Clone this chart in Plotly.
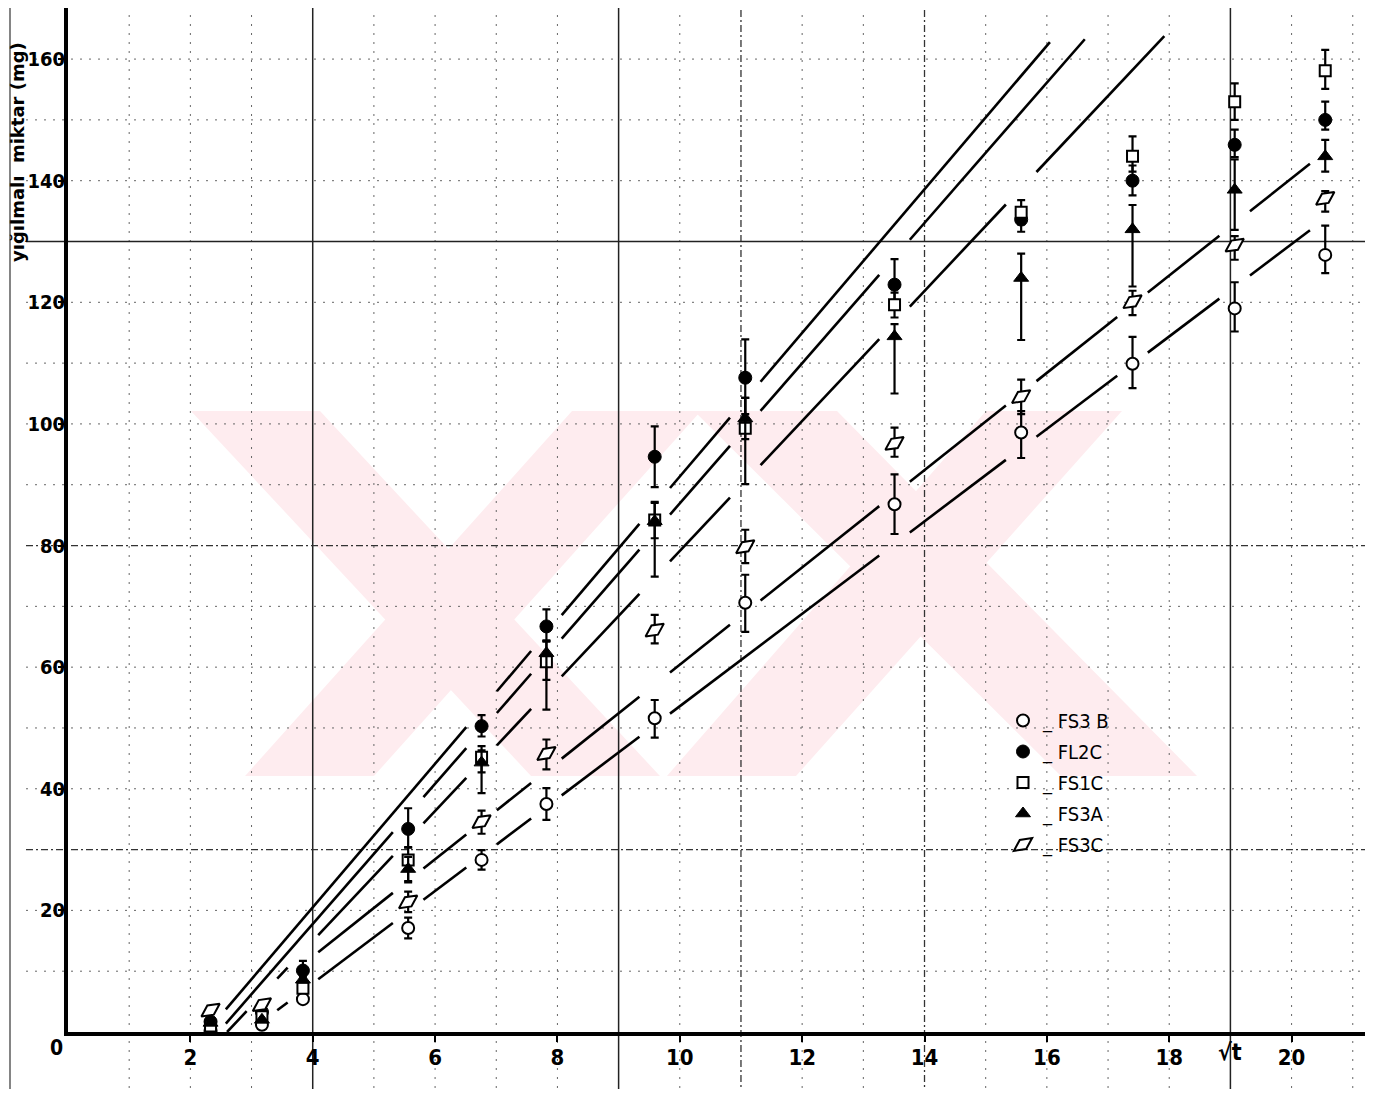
import plotly.graph_objects as go

# ---------------- data ----------------
x_cols = [2.33, 3.17, 3.84, 5.56, 6.76, 7.82, 9.59, 11.07, 13.51, 15.58, 17.40, 19.07, 20.55]

fs3b = [0.2, 1.2, 5.4, 17.1, 28.3, 37.5, 51.6, 70.6, 86.8, 98.6, 109.9, 119.0, 127.8]
fs3b_ep = [0, 0, 0, 1.7, 1.6, 2.6, 3.0, 4.6, 4.9, 3.5, 4.4, 4.3, 4.8]
fs3b_em = [0, 0, 0, 1.7, 1.6, 2.6, 3.2, 4.8, 4.9, 4.2, 4.0, 3.8, 3.0]

fl2c = [1.7, 3.3, 10.1, 33.4, 50.3, 66.7, 94.6, 107.6, 122.9, 133.6, 140.0, 145.9, 150.0]
fl2c_ep = [0, 0, 1.6, 3.4, 1.8, 2.8, 5.0, 6.3, 4.2, 2.0, 2.5, 2.5, 3.0]
fl2c_em = [0, 0, 1.0, 3.0, 1.7, 2.5, 5.0, 6.0, 2.5, 2.0, 2.4, 2.0, 1.6]

fs1c = [1.0, 2.5, 7.2, 28.3, 45.2, 60.9, 84.2, 99.3, 119.6, 134.8, 144.0, 153.0, 158.1]
fs1c_ep = [0, 0, 0, 2.0, 1.8, 3.5, 3.0, 5.0, 2.0, 2.0, 3.3, 3.0, 3.4]
fs1c_em = [0, 0, 0, 3.7, 2.5, 3.0, 3.0, 9.2, 2.1, 2.0, 2.5, 3.0, 3.0]

fs3a = [1.5, 2.0, 8.6, 26.8, 44.3, 62.3, 84.0, 100.9, 114.4, 124.0, 132.0, 138.5, 144.0]
fs3a_ep = [0, 0, 0, 2.0, 2.0, 2.0, 3.0, 3.4, 2.0, 4.0, 4.0, 5.0, 2.7]
fs3a_em = [0, 0, 0, 2.0, 5.0, 9.3, 9.1, 3.4, 9.4, 10.2, 9.4, 6.6, 2.5]

fs3c = [3.6, 4.5, None, 21.4, 34.6, 45.8, 66.1, 79.8, 96.8, 104.5, 120.1, 129.4, 137.1]
fs3c_ep = [0, 0, 0, 1.7, 1.8, 2.3, 2.5, 2.8, 2.6, 2.8, 1.8, 1.5, 1.2]
fs3c_em = [0, 0, 0, 1.7, 2.0, 2.6, 2.2, 2.7, 2.2, 2.9, 2.2, 2.4, 2.2]

series_names = ["_ FS3 B", "_ FL2C", "_ FS1C", "_ FS3A", "_ FS3C"]

# fitted straight lines  y = slope * (x - x_intercept)
line_slope = [11.81, 11.53, 10.69, 8.0, 7.6]
line_x0 = [2.265, 2.46, 2.6, 2.45, 2.95]
line_start = [2.265, 2.46, 2.6, 3.85, 3.25]
line_end = [16.05, 16.62, 17.92, 20.42, 20.40]

x_ticks = [2, 4, 6, 8, 10, 12, 14, 16, 18, 20]
y_ticks = [20, 40, 60, 80, 100, 120, 140, 160]

# ---------------- figure ----------------
OFF = 8                      # browser body margin
W, H = 1378 - 2 * OFF, 1097 - 2 * OFF
L, R, T, B = 60, 5, 0, 57
PW, PH = W - L - R, H - T - B
FONT = "DejaVu Sans Condensed, Liberation Sans Narrow, Arial Narrow, DejaVu Sans, sans-serif"
TFONT = "DejaVu Sans, Liberation Sans, sans-serif"


def px2paper(px, py):
    """page pixel -> paper coordinates"""
    return (px - OFF - L) / PW, (H - B - (py - OFF)) / PH


fig = go.Figure()

# column extents (used to break the fitted lines where they pass the markers)
all_series = [(fs3b, fs3b_ep, fs3b_em), (fl2c, fl2c_ep, fl2c_em), (fs1c, fs1c_ep, fs1c_em),
              (fs3a, fs3a_ep, fs3a_em), (fs3c, fs3c_ep, fs3c_em)]
col_lo, col_hi = [], []
for i in range(len(x_cols)):
    lo, hi = 1e9, -1e9
    for vals, ep, em in all_series:
        if vals[i] is None:
            continue
        lo = min(lo, vals[i] - em[i])
        hi = max(hi, vals[i] + ep[i])
    col_lo.append(lo)
    col_hi.append(hi)

GAP = 0.25
MARGIN = 2.0
for k in range(len(line_slope)):
    s, x0, xa, xb = line_slope[k], line_x0[k], line_start[k], line_end[k]
    cuts = []
    for i, c in enumerate(x_cols):
        yc = s * (c - x0)
        if col_lo[i] - MARGIN <= yc <= col_hi[i] + MARGIN and xa < c + GAP and c - GAP < xb:
            cuts.append((c - GAP, c + GAP))
    segs = []
    cur = xa
    for a, b in cuts:
        if a > cur:
            segs.append((cur, a))
        cur = max(cur, b)
    if cur < xb:
        segs.append((cur, xb))
    lx, ly = [], []
    for a, b in segs:
        lx += [a, b, None]
        ly += [s * (a - x0), s * (b - x0), None]
    fig.add_trace(go.Scatter(x=lx, y=ly, mode="lines", line=dict(color="black", width=2.6),
                             showlegend=False, hoverinfo="skip"))

marker_defs = [
    dict(symbol="circle", size=12, color="white", line=dict(color="black", width=2)),
    dict(symbol="circle", size=13, color="black", line=dict(color="black", width=1)),
    dict(symbol="square", size=11, color="white", line=dict(color="black", width=2)),
    dict(symbol="triangle-up", size=13, color="black", line=dict(color="black", width=1)),
    dict(symbol="diamond-wide", size=16, color="white", angle=-35, line=dict(color="black", width=2)),
]

for idx, (vals, ep, em) in enumerate(all_series):
    fig.add_trace(go.Scatter(
        x=x_cols, y=vals, mode="markers", name=series_names[idx],
        marker=marker_defs[idx], legendgroup=f"g{idx}",
        error_y=dict(type="data", array=ep, arrayminus=em, color="black", thickness=2.2, width=4),
    ))

shapes = []
# watermark (light pink logo behind everything)
pink = "rgb(254,236,239)"
bands = [
    [(191, 411), (320, 411), (660, 776), (531, 776)],
    [(572, 411), (701, 411), (374, 776), (245, 776)],
    [(694, 411), (837, 411), (1197, 776), (1061, 776)],
    [(986, 411), (1122, 411), (796, 776), (667, 776)],
]
for poly in bands:
    pts = [px2paper(*p) for p in poly]
    path = "M " + " L ".join(f"{a:.4f},{b:.4f}" for a, b in pts) + " Z"
    shapes.append(dict(type="path", path=path, xref="paper", yref="paper",
                       fillcolor=pink, line=dict(width=0), layer="below"))

# graph-paper grid
ybot = px2paper(0, 1097)[1]
for gx in range(1, 22):
    if gx in (4, 9, 19):
        st = dict(color="#222", width=1.5, dash="solid")
    elif gx in (11, 14):
        st = dict(color="#333", width=1.3, dash="7px,3px,2px,3px")
    else:
        st = dict(color="#666", width=1.0, dash="2px,7px")
    shapes.append(dict(type="line", xref="x", yref="paper", x0=gx, x1=gx, y0=ybot, y1=1.0,
                       line=st, layer="below"))
xleft = px2paper(26, 0)[0]
for gy in range(10, 170, 10):
    if gy == 130:
        st = dict(color="#222", width=1.5, dash="solid")
    elif gy in (30, 80):
        st = dict(color="#333", width=1.3, dash="7px,3px,2px,3px")
    else:
        st = dict(color="#666", width=1.0, dash="2px,7px")
    shapes.append(dict(type="line", xref="paper", yref="y", x0=xleft, x1=1.0, y0=gy, y1=gy,
                       line=st, layer="below"))
# paper edge line at far left
shapes.append(dict(type="line", xref="paper", yref="paper", x0=px2paper(10, 0)[0], x1=px2paper(10, 0)[0],
                   y0=ybot, y1=1.0, line=dict(color="#333", width=1.2), layer="below"))

annotations = [
    dict(text="<b>0</b>", x=px2paper(56, 1048)[0], y=px2paper(56, 1048)[1], xref="paper", yref="paper",
         xanchor="center", yanchor="middle",
         showarrow=False, font=dict(family=FONT, size=21, color="black")),
    dict(text="<b>√t</b>", x=px2paper(1230, 0)[0], y=px2paper(0, 1052)[1], xref="paper", yref="paper",
         xanchor="center", yanchor="middle",
         showarrow=False, font=dict(family=FONT, size=23, color="black")),
    dict(text="<b>yığılmalı  miktar (mg)</b>", x=px2paper(17, 0)[0], y=px2paper(0, 152)[1],
         xref="paper", yref="paper", xanchor="center", yanchor="middle", textangle=-90, showarrow=False,
         font=dict(family=TFONT, size=18, color="black")),
]

fig.update_layout(
    width=W, height=H,
    margin=dict(l=L, r=R, t=T, b=B, pad=0, autoexpand=False),
    paper_bgcolor="white", plot_bgcolor="white",
    shapes=shapes, annotations=annotations,
    showlegend=True,
    legend=dict(x=px2paper(1003, 0)[0], y=px2paper(0, 701)[1], xanchor="left", yanchor="top",
                bgcolor="rgba(0,0,0,0)", font=dict(family=FONT, size=20, color="black"),
                tracegroupgap=2, itemsizing="trace", itemwidth=30),
    xaxis=dict(range=[0, 21.2], tickvals=x_ticks, ticktext=[str(v) for v in x_ticks],
               showgrid=False, zeroline=False, showline=True, linecolor="black", linewidth=4,
               ticks="outside", ticklen=6, tickwidth=2, tickcolor="black", automargin=False,
               ticklabelstandoff=-3,
               tickfont=dict(family=FONT, size=22, color="black", weight="bold")),
    yaxis=dict(range=[0, 168.4], tickvals=y_ticks, ticktext=[str(v) for v in y_ticks],
               showgrid=False, zeroline=False, showline=True, linecolor="black", linewidth=4,
               ticks="outside", ticklen=6, tickwidth=2, tickcolor="black", automargin=False,
               ticklabelstandoff=-11,
               tickfont=dict(family=FONT, size=20, color="black", weight="bold")),
)

fig.write_html("out.html")
